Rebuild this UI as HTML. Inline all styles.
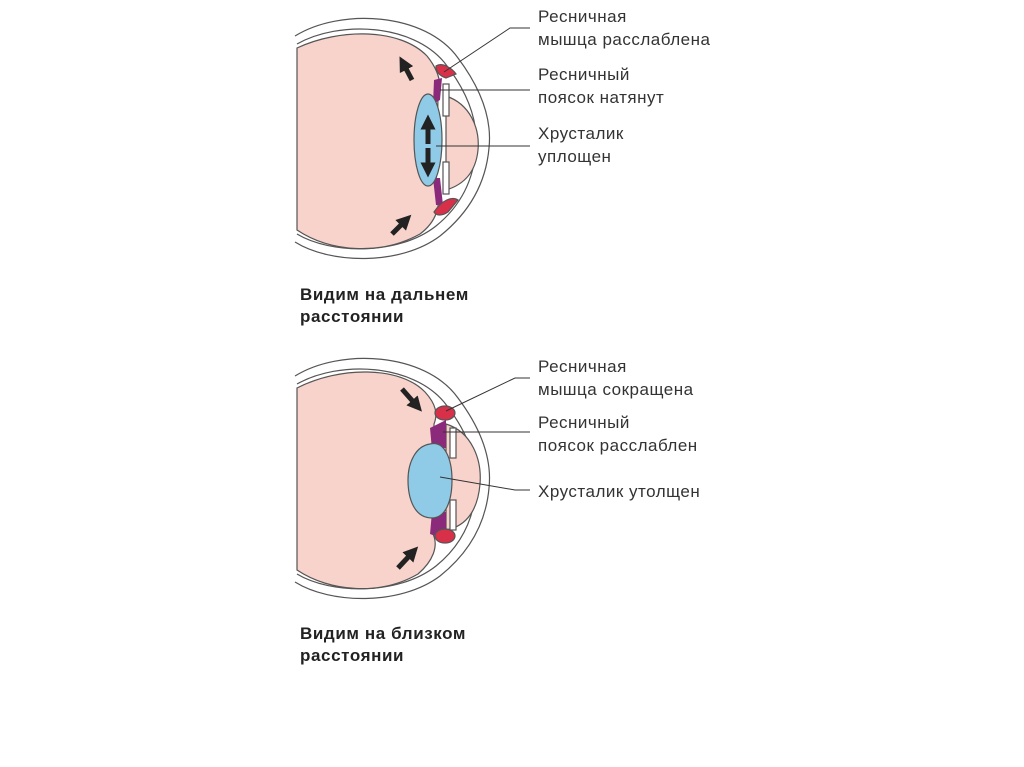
<!DOCTYPE html>
<html><head><meta charset="utf-8"><style>
html,body{margin:0;padding:0;background:#fff;}
svg{display:block}
text{font-family:"Liberation Sans",sans-serif;fill:#333;}
.l{font-size:17px;letter-spacing:0.5px}
.b{font-size:17px;font-weight:bold;fill:#222;letter-spacing:0.6px}
</style></head><body>
<svg width="1024" height="767" viewBox="0 0 1024 767" xmlns="http://www.w3.org/2000/svg">
<defs>
<marker id="ah" viewBox="0 0 10 10" refX="5" refY="5" markerWidth="3" markerHeight="3" orient="auto"><path d="M0,0 L10,5 L0,10 Z" fill="#222"/></marker>
</defs>
<!-- top eye -->
<g stroke="#555" stroke-width="1.2">
<path d="M295,36 C340,8 425,12 458,58 C482,90 492,120 489,148 C486,182 470,212 440,236 C400,266 330,264 295,242" fill="none"/>
<path d="M297,44 C340,20 412,24 444,62 C468,92 478,120 476,148 C474,178 462,205 436,226 C398,256 330,254 297,234" fill="none"/>
<path d="M297,48 C340,28 400,28 427,56 C440,72 442,86 438,98 L436,190 C442,205 436,222 420,234 C380,256 330,252 297,230 Z" fill="#f7d3cc"/>
<path d="M446,96 C470,104 480,128 478,150 C476,170 466,184 446,190 Z" fill="#f7d3cc"/>
<path d="M434,80 L442,78 L440,100 L433,104 Z M433,178 L440,178 L443,205 L436,205 Z" fill="#8b2a7a" stroke="none"/>
<ellipse cx="428" cy="140" rx="14" ry="46" fill="#8fcbe6"/>
<rect x="443" y="84" width="6" height="32" fill="#fff"/>
<rect x="443" y="162" width="6" height="32" fill="#fff"/>
<path d="M436,66 C442,62 452,68 456,74 L446,78 C440,76 436,72 436,66 Z" fill="#d9304a"/>
<path d="M434,212 C442,200 452,196 458,200 L448,212 C442,216 436,216 434,212 Z" fill="#d9304a"/>
</g>
<g stroke="#222" stroke-width="5" marker-end="url(#ah)">
<line x1="412" y1="80" x2="403" y2="63"/>
<line x1="392" y1="234" x2="406" y2="220"/>
<line x1="428" y1="144" x2="428" y2="122"/>
<line x1="428" y1="148" x2="428" y2="170"/>
</g>
<g stroke="#333" stroke-width="1" fill="none">
<path d="M444,72 L510,28 L530,28"/>
<path d="M440,90 L530,90"/>
<path d="M436,146 L530,146"/>
</g>
<text class="l" x="538" y="22">Ресничная</text>
<text class="l" x="538" y="45">мышца расслаблена</text>
<text class="l" x="538" y="80">Ресничный</text>
<text class="l" x="538" y="103">поясок натянут</text>
<text class="l" x="538" y="139">Хрусталик</text>
<text class="l" x="538" y="162">уплощен</text>
<text class="b" x="300" y="300">Видим на дальнем</text>
<text class="b" x="300" y="322">расстоянии</text>
<!-- bottom eye -->
<g stroke="#555" stroke-width="1.2">
<path d="M295,376 C340,348 425,352 458,398 C482,430 492,460 489,488 C486,522 470,552 440,576 C400,606 330,604 295,582" fill="none"/>
<path d="M297,384 C340,360 412,364 444,402 C468,432 478,460 476,488 C474,518 462,545 436,566 C398,596 330,594 297,574" fill="none"/>
<path d="M297,388 C340,366 400,366 425,392 C436,404 438,414 434,424 L432,532 C440,546 432,562 418,574 C380,596 330,592 297,570 Z" fill="#f7d3cc"/>
<path d="M446,424 C472,432 482,460 480,484 C478,508 468,526 446,530 Z" fill="#f7d3cc"/>
<path d="M430,428 L446,420 L446,448 L432,450 Z M432,512 L446,512 L446,540 L430,534 Z" fill="#8b2a7a" stroke="none"/>
<path d="M430,444 C445,440 452,460 452,480 C452,500 446,518 432,518 C414,518 408,498 408,480 C408,462 416,446 430,444 Z" fill="#8fcbe6"/>
<rect x="450" y="428" width="6" height="30" fill="#fff"/>
<rect x="450" y="500" width="6" height="30" fill="#fff"/>
<ellipse cx="445" cy="413" rx="10" ry="7" fill="#d9304a"/>
<ellipse cx="445" cy="536" rx="10" ry="7" fill="#d9304a"/>
</g>
<g stroke="#222" stroke-width="5" marker-end="url(#ah)">
<line x1="402" y1="389" x2="417" y2="406"/>
<line x1="398" y1="568" x2="413" y2="552"/>
</g>
<g stroke="#333" stroke-width="1" fill="none">
<path d="M446,411 L515,378 L530,378"/>
<path d="M443,432 L530,432"/>
<path d="M440,477 L515,490 L530,490"/>
</g>
<text class="l" x="538" y="372">Ресничная</text>
<text class="l" x="538" y="395">мышца сокращена</text>
<text class="l" x="538" y="428">Ресничный</text>
<text class="l" x="538" y="451">поясок расслаблен</text>
<text class="l" x="538" y="497">Хрусталик утолщен</text>
<text class="b" x="300" y="639">Видим на близком</text>
<text class="b" x="300" y="661">расстоянии</text>
</svg>
</body></html>
